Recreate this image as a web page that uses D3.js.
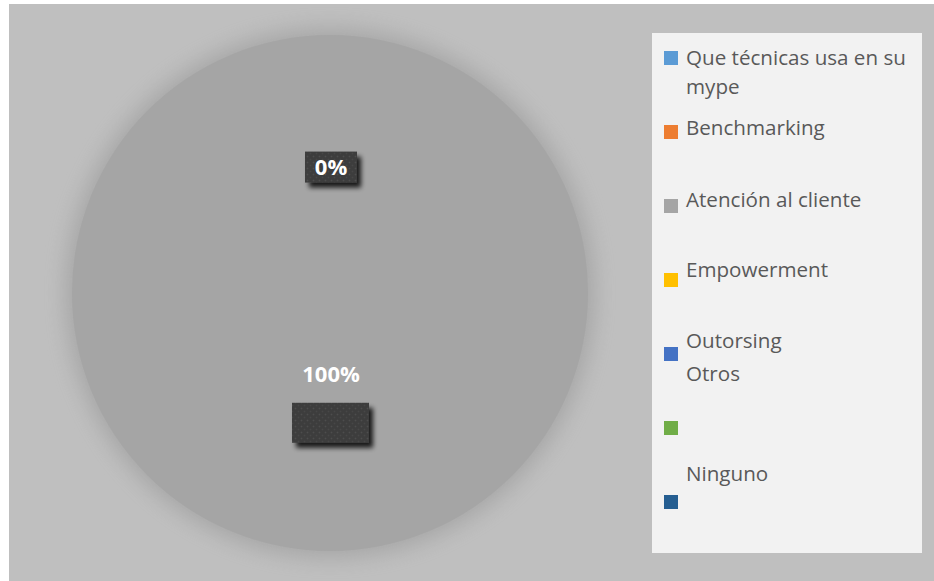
<!DOCTYPE html>
<html>
<head>
<meta charset="utf-8">
<script src="https://cdn.jsdelivr.net/npm/d3@7"></script>
<style>
  html, body { margin: 0; padding: 0; background: #ffffff; }
  svg { display: block; }
</style>
</head>
<body>
<svg id="chart" width="934" height="581"></svg>
<script>
// Survey answers: "Que técnicas usa en su mype"
const categories = [
  "Que técnicas usa en su mype",
  "Benchmarking",
  "Atención al cliente",
  "Empowerment",
  "Outorsing",
  "Otros",
  "Ninguno"
];
const values = [0, 0, 100, 0, 0, 0, 0];
const colors = ["#5b9bd5", "#ed7d31", "#a5a5a5", "#ffc000", "#4472c4", "#70ad47", "#255e91"];
// data labels that are shown (category index)
const labelled = [0, 2];

const W = 934, H = 581;
const svg = d3.select("#chart");
const defs = svg.append("defs");

// soft halo behind the pie
defs.append("filter").attr("id", "halo")
  .attr("x", "-30%").attr("y", "-30%").attr("width", "160%").attr("height", "160%")
  .append("feGaussianBlur").attr("stdDeviation", 11);

// drop shadow for the label boxes
const sh = defs.append("filter").attr("id", "boxShadow")
  .attr("x", "-40%").attr("y", "-40%").attr("width", "190%").attr("height", "200%");
sh.append("feGaussianBlur").attr("in", "SourceAlpha").attr("stdDeviation", 2.5).attr("result", "b");
sh.append("feOffset").attr("in", "b").attr("dx", 4).attr("dy", 5).attr("result", "o");
sh.append("feComponentTransfer").attr("in", "o").attr("result", "o2")
  .append("feFuncA").attr("type", "linear").attr("slope", 0.85);
const mg = sh.append("feMerge");
mg.append("feMergeNode").attr("in", "o2");
mg.append("feMergeNode").attr("in", "SourceGraphic");

// dotted texture for label boxes
const pat = defs.append("pattern").attr("id", "dots")
  .attr("width", 6).attr("height", 6).attr("patternUnits", "userSpaceOnUse");
pat.append("rect").attr("width", 6).attr("height", 6).attr("fill", "#3c3c3c");
pat.append("circle").attr("cx", 1.5).attr("cy", 1.5).attr("r", 1).attr("fill", "#4d4d4d");
pat.append("circle").attr("cx", 4.5).attr("cy", 4.5).attr("r", 1).attr("fill", "#474747");

// chart area background
svg.append("rect").attr("x", 9).attr("y", 4).attr("width", W - 9).attr("height", H - 4)
  .attr("fill", "#bfbfbf");

// pie geometry
const cx = 330, cy = 293, R = 258;
const pie = d3.pie().sort(null).value(d => d.value);
const arcs = pie(categories.map((c, i) => ({ name: c, value: values[i], color: colors[i] })));
const arc = d3.arc().innerRadius(0).outerRadius(R);

const g = svg.append("g").attr("transform", `translate(${cx},${cy})`);
g.append("circle").attr("r", R + 6).attr("fill", "#9d9d9d").attr("opacity", 0.75)
  .attr("filter", "url(#halo)");
g.selectAll("path.slice").data(arcs.filter(d => d.value > 0)).join("path")
  .attr("class", "slice")
  .attr("d", arc)
  .attr("fill", d => d.data.color);

// data labels
const total = d3.sum(values);
const pct = d3.format(".0%");
const at = (a, r) => [Math.sin(a) * r, -Math.cos(a) * r];
const labelFont = "bold 22px 'Open Sans', sans-serif";

labelled.forEach(i => {
  const d = arcs[i];
  const mid = (d.startAngle + d.endAngle) / 2;
  const txt = pct(d.value / total);
  if (d.value === 0) {
    const [x, y] = at(mid, R * 0.49);
    g.append("rect").attr("x", x - 25).attr("y", y - 15).attr("width", 52).attr("height", 31)
      .attr("fill", "url(#dots)").attr("filter", "url(#boxShadow)");
    g.append("text").attr("x", x + 1).attr("y", y).attr("dy", "0.36em")
      .attr("text-anchor", "middle").style("font", labelFont).attr("fill", "#ffffff").text(txt);
  } else {
    const [bx, by] = at(mid, R * 0.503);
    g.append("rect").attr("x", bx - 38).attr("y", by - 20).attr("width", 77).attr("height", 40)
      .attr("fill", "url(#dots)").attr("filter", "url(#boxShadow)");
    const [x, y] = at(mid, R * 0.314);
    g.append("text").attr("x", x + 1).attr("y", y).attr("dy", "0.36em")
      .attr("text-anchor", "middle").style("font", labelFont).attr("fill", "#ffffff").text(txt);
  }
});

// legend
const lg = svg.append("g");
lg.append("rect").attr("x", 652).attr("y", 33).attr("width", 270).attr("height", 520)
  .attr("fill", "#f2f2f2");
const rowY = d3.scaleLinear().domain([0, categories.length - 1]).range([58, 502]);
// vertical shift of each entry's text against its marker
const textShift = [0, -4, -6, -10, -13, -54, -28];
const legendFont = "20.6px 'Open Sans', sans-serif";
const maxW = 230;

categories.forEach((c, i) => {
  const y = rowY(i);
  lg.append("rect").attr("x", 664).attr("y", y - 7).attr("width", 14).attr("height", 14)
    .attr("fill", colors[i]);
  const t = lg.append("text").attr("x", 686).attr("y", y + textShift[i]).attr("dy", "0.35em")
    .style("font", legendFont).attr("fill", "#595959");
  // wrap long names onto extra lines
  const words = c.split(" ");
  let line = [];
  let ts = t.append("tspan").attr("x", 686).attr("dy", "0.35em");
  words.forEach(w => {
    line.push(w);
    ts.text(line.join(" "));
    if (ts.node().getComputedTextLength() > maxW && line.length > 1) {
      line.pop();
      ts.text(line.join(" "));
      line = [w];
      ts = t.append("tspan").attr("x", 686).attr("dy", 29).text(w);
    }
  });
  t.attr("dy", null);
});
</script>
</body>
</html>
